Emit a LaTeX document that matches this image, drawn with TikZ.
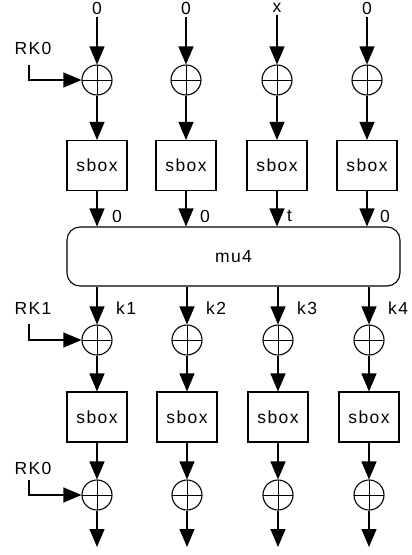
\documentclass[tikz,border=0pt]{standalone}
\usepackage{fontspec}
\setmainfont[LetterSpace=8]{Liberation Sans}
\usetikzlibrary{arrows.meta}
\tikzset{
  wire/.style={line width=1.1pt, -{Triangle[length=18pt,width=15pt]}},
  xorc/.style={circle, draw, line width=1.1pt, minimum size=30pt, inner sep=0pt,
    path picture={\draw[line width=1pt] (path picture bounding box.north) -- (path picture bounding box.south)
      (path picture bounding box.west) -- (path picture bounding box.east);}},
  sboxbox/.style={draw, line width=1.1pt, minimum width=60pt, minimum height=50pt, inner sep=0pt,
    font=\fontsize{17.5}{20}\selectfont},
  txt/.style={inner sep=2pt, font=\fontsize{17.5}{20}\selectfont},
  toplbl/.style={inner sep=2.5pt, font=\fontsize{17.5}{20}\selectfont},
}
\begin{document}
\begin{tikzpicture}[x=1pt,y=-1pt]
\useasboundingbox (0,0) rectangle (412,555);

% top row inputs
\foreach \i/\x/\t in {1/97/0,2/186/0,3/277/x,4/367/0}{
  \node[toplbl] (in\i) at (\x,8) {\t};
  \node[xorc] (a\i) at (\x,80) {};
  \node[sboxbox] (s\i) at (\x,165.5) {sbox};
}

% mixing layer
\node[draw, line width=1.1pt, rounded corners=13pt, minimum width=333pt, minimum height=59pt,
  font=\fontsize{17.5}{20}\selectfont] (mu) at (233.5,256.5) {mu4};

% bottom rows
\foreach \i/\x in {1/97,2/187,3/278,4/369}{
  \node[xorc] (b\i) at (\x,340) {};
  \node[sboxbox] (t\i) at (\x,417) {sbox};
  \node[xorc] (c\i) at (\x,495) {};
  \coordinate (out\i) at (\x,547);
}

% vertical data paths
\foreach \i in {1,2,3,4}{
  \draw[wire] (in\i.south) -- (a\i.north);
  \draw[wire] (a\i.south) -- (s\i.north);
  \draw[wire] (s\i.south) -- (s\i.south |- mu.north);
  \draw[wire] (mu.south -| b\i) -- (b\i.north);
  \draw[wire] (b\i.south) -- (t\i.north);
  \draw[wire] (t\i.south) -- (c\i.north);
  \draw[wire] (c\i.south) -- (out\i);
}

% labels on the mixing inputs and outputs
\node[txt, anchor=west] (v1) at (110,216) {0};
\node[txt, anchor=west] (v2) at (198,216) {0};
\node[txt, anchor=west] (v3) at (285,216) {t};
\node[txt, anchor=west] (v4) at (378,216) {0};
\node[txt, anchor=west] (k1) at (114,308) {k1};
\node[txt, anchor=west] (k2) at (204,308) {k2};
\node[txt, anchor=west] (k3) at (295,308) {k3};
\node[txt, anchor=west] (k4) at (386,308) {k4};

% round keys
\node[txt] (rka) at (33,48) {RK0};
\coordinate (rkaC) at (29,65);
\draw[wire] (rkaC) |- (a1.west);

\node[txt] (rkb) at (33,308) {RK1};
\coordinate (rkbC) at (29,324);
\draw[wire] (rkbC) |- (b1.west);

\node[txt] (rkc) at (33,468) {RK0};
\coordinate (rkcC) at (29,480);
\draw[wire] (rkcC) |- (c1.west);
\end{tikzpicture}
\end{document}
